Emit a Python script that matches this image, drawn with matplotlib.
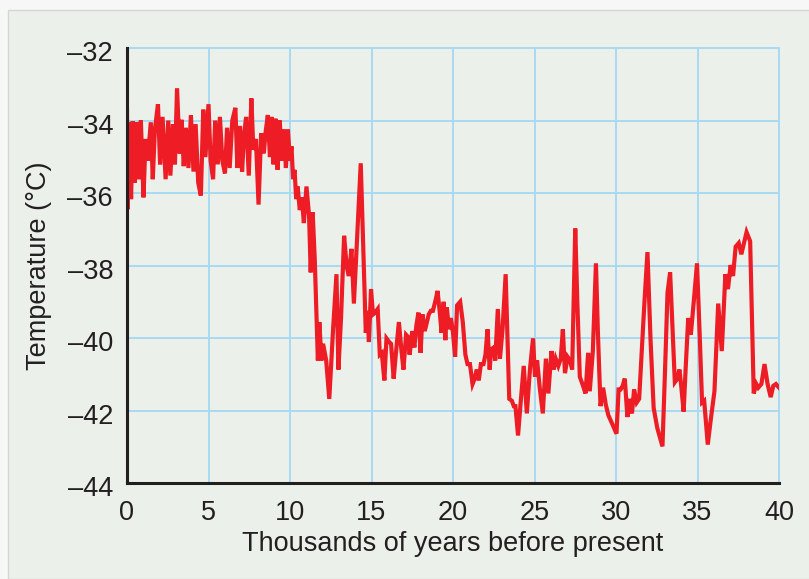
import matplotlib

matplotlib.use("Agg")

import matplotlib.pyplot as plt
from matplotlib.patches import Rectangle
from matplotlib.transforms import ScaledTranslation

# Ice-core temperature record
age_kyr = [
    0.00, 0.03, 0.16, 0.25, 0.35, 0.47, 0.60, 0.73, 0.85, 1.01,
    1.14, 1.27, 1.46, 1.58, 1.71, 1.90, 2.03, 2.18, 2.37, 2.53,
    2.66, 2.82, 2.94, 3.07, 3.23, 3.35, 3.48, 3.61, 3.77, 3.92,
    4.08, 4.21, 4.37, 4.53, 4.68, 4.81, 5.00, 5.13, 5.28, 5.41,
    5.57, 5.70, 5.85, 6.01, 6.14, 6.30, 6.46, 6.65, 6.77, 6.93,
    7.06, 7.18, 7.31, 7.47, 7.63, 7.75, 7.91, 8.07, 8.23, 8.39,
    8.51, 8.64, 8.77, 8.86, 8.99, 9.11, 9.24, 9.37, 9.49, 9.62,
    9.75, 9.87, 10.00, 10.09, 10.19, 10.28, 10.38, 10.47, 10.60, 10.73,
    10.85, 11.01, 11.17, 11.27, 11.39, 11.52, 11.71, 11.80, 11.93, 12.03,
    12.22, 12.41, 12.63, 12.85, 12.97, 13.13, 13.32, 13.48, 13.61, 13.77,
    13.92, 14.34, 14.65, 14.75, 14.84, 14.97, 15.09, 15.22, 15.38, 15.51,
    15.63, 15.79, 15.92, 16.08, 16.20, 16.36, 16.49, 16.68, 16.84, 16.96,
    17.12, 17.22, 17.34, 17.50, 17.63, 17.75, 17.88, 18.01, 18.13, 18.26,
    18.35, 18.51, 18.64, 18.77, 18.96, 19.05, 19.18, 19.30, 19.43, 19.53,
    19.62, 19.75, 19.87, 20.00, 20.13, 20.25, 20.44, 20.60, 20.76, 20.89,
    21.04, 21.20, 21.33, 21.46, 21.58, 21.71, 21.87, 21.99, 22.12, 22.25,
    22.34, 22.50, 22.59, 22.75, 22.88, 23.04, 23.23, 23.45, 23.61, 23.73,
    23.83, 23.99, 24.15, 24.34, 24.53, 24.72, 24.91, 25.03, 25.16, 25.32,
    25.51, 25.70, 25.85, 26.04, 26.17, 26.30, 26.46, 26.61, 26.74, 26.87,
    27.03, 27.18, 27.31, 27.50, 27.63, 27.78, 27.94, 28.13, 28.29, 28.39,
    28.58, 28.77, 28.89, 29.05, 29.21, 29.37, 29.53, 29.78, 30.03, 30.16,
    30.28, 30.41, 30.54, 30.70, 30.82, 30.98, 31.11, 31.27, 31.42, 31.58,
    31.74, 31.93, 32.12, 32.31, 32.53, 32.69, 32.85, 33.01, 33.16, 33.32,
    33.48, 33.61, 33.77, 33.89, 33.99, 34.15, 34.27, 34.43, 34.59, 34.78,
    34.97, 35.13, 35.28, 35.41, 35.63, 35.82, 36.04, 36.27, 36.49, 36.71,
    36.87, 37.03, 37.18, 37.34, 37.53, 37.69, 37.85, 38.01, 38.23, 38.45,
    38.61, 38.73, 38.92, 39.11, 39.30, 39.49, 39.65, 39.81, 40.00,
]

temp_c = [
    -33.70, -36.45, -34.05, -36.17, -34.02, -35.72, -34.05, -35.62, -34.00, -36.12,
    -34.51, -35.11, -34.05, -35.62, -34.25, -33.55, -35.21, -33.90, -35.62, -34.00,
    -35.52, -34.10, -35.21, -33.11, -34.91, -33.98, -35.26, -34.20, -35.31, -33.85,
    -35.41, -34.10, -35.72, -36.07, -33.70, -35.01, -33.55, -35.11, -35.62, -34.00,
    -35.21, -33.90, -35.11, -35.46, -34.20, -35.31, -34.00, -33.65, -35.31, -34.15,
    -35.41, -34.40, -33.90, -35.52, -33.39, -34.81, -34.51, -36.32, -34.35, -34.91,
    -34.30, -33.85, -35.01, -33.90, -35.21, -33.95, -35.36, -34.00, -35.11, -34.25,
    -35.31, -34.25, -35.11, -34.71, -35.62, -35.36, -36.17, -35.82, -36.47, -36.12,
    -36.83, -35.82, -36.63, -38.19, -36.53, -37.84, -40.62, -39.56, -40.62, -40.16,
    -40.62, -41.68, -39.86, -38.24, -40.87, -39.45, -37.18, -38.04, -38.29, -37.54,
    -39.05, -35.18, -39.86, -39.25, -40.11, -38.65, -39.35, -39.30, -39.20, -40.46,
    -40.41, -41.17, -40.01, -40.11, -40.16, -41.12, -40.46, -39.56, -40.36, -40.87,
    -39.91, -39.96, -40.46, -39.81, -40.26, -39.66, -39.30, -40.41, -39.35, -39.81,
    -39.66, -39.35, -39.25, -39.25, -38.90, -38.70, -39.25, -39.86, -39.00, -40.06,
    -39.15, -39.76, -39.45, -39.86, -40.52, -39.10, -39.00, -39.56, -40.46, -40.72,
    -40.72, -41.27, -41.12, -40.87, -41.17, -40.72, -40.72, -40.46, -39.76, -40.87,
    -40.31, -40.26, -40.62, -39.20, -40.57, -39.76, -38.24, -41.68, -41.73, -41.88,
    -41.88, -42.69, -41.78, -40.77, -42.08, -40.87, -40.01, -41.07, -40.62, -41.37,
    -42.08, -40.57, -41.53, -40.36, -40.87, -40.57, -40.77, -40.57, -39.76, -40.97,
    -40.52, -40.62, -40.87, -36.98, -39.05, -41.07, -41.27, -41.53, -40.41, -41.47,
    -40.36, -37.94, -39.86, -41.88, -41.37, -41.83, -42.13, -42.38, -42.64, -41.42,
    -41.42, -41.32, -41.12, -42.18, -41.68, -42.08, -41.42, -41.78, -41.68, -40.36,
    -39.05, -37.63, -40.06, -41.93, -42.48, -42.74, -42.99, -40.87, -38.75, -38.19,
    -39.86, -41.22, -41.12, -40.87, -41.27, -42.03, -40.87, -39.45, -39.91, -38.95,
    -37.94, -39.86, -41.78, -41.73, -42.94, -42.23, -41.47, -39.05, -40.36, -38.24,
    -38.65, -37.99, -38.29, -37.48, -37.38, -37.69, -37.38, -37.08, -37.33, -41.53,
    -41.27, -41.37, -41.27, -40.72, -41.27, -41.63, -41.32, -41.27, -41.37,
]

x_ticks = [0, 5, 10, 15, 20, 25, 30, 35, 40]
y_ticks = [-44, -42, -40, -38, -36, -34, -32]

PANEL = "#ebf1ea"
GRID = "#a9daf3"
RED = "#ee1c25"
INK = "#231f20"

plt.rcParams["font.family"] = ["Liberation Sans", "DejaVu Sans"]

fig = plt.figure(figsize=(8.09, 5.79), dpi=100, facecolor="#f7f7f7")
fig.patches.append(
    Rectangle(
        (8 / 809, 0), 1.0, 1 - 10 / 579,
        transform=fig.transFigure, facecolor=PANEL,
        edgecolor="#d4d6d4", linewidth=1.0, zorder=-10,
    )
)

ax = fig.add_axes([127 / 809, 1 - 483 / 579, 652 / 809, 435 / 579])
ax.set_zorder(5)
ax.set_facecolor(PANEL)

ax.plot(age_kyr, temp_c, color=RED, linewidth=3.0, solid_joinstyle="miter", zorder=3)

ax.set_xlim(0, 40)
ax.set_ylim(-44, -32)
ax.set_xticks(x_ticks)
ax.set_yticks(y_ticks)
ax.set_xticklabels([f"{v}" for v in x_ticks])
ax.set_yticklabels([f"{v}".replace("-", "\u2013") for v in y_ticks])
ax.tick_params(length=0, labelsize=19.5, colors=INK)
ax.tick_params(axis="x", pad=12)
ax.tick_params(axis="y", pad=10)

# the printed y labels sit a little below their grid lines
shift = ScaledTranslation(0, -2.5 / 72, fig.dpi_scale_trans)
for lab in ax.get_yticklabels():
    lab.set_transform(lab.get_transform() + shift)

ax.grid(True, color=GRID, linewidth=1.4, zorder=1)
ax.set_axisbelow(True)

for side in ("top", "right"):
    ax.spines[side].set_color(GRID)
    ax.spines[side].set_linewidth(1.4)
for side in ("left", "bottom"):
    ax.spines[side].set_color(INK)
    ax.spines[side].set_linewidth(2.2)
    ax.spines[side].set_zorder(4)

ax.set_xlabel("Thousands of years before present", fontsize=19.5, color=INK, labelpad=4)
ax.set_ylabel("Temperature (\u00b0C)", fontsize=19.5, color=INK, labelpad=11)

fig.savefig("out.png", dpi=100, facecolor=fig.get_facecolor())
